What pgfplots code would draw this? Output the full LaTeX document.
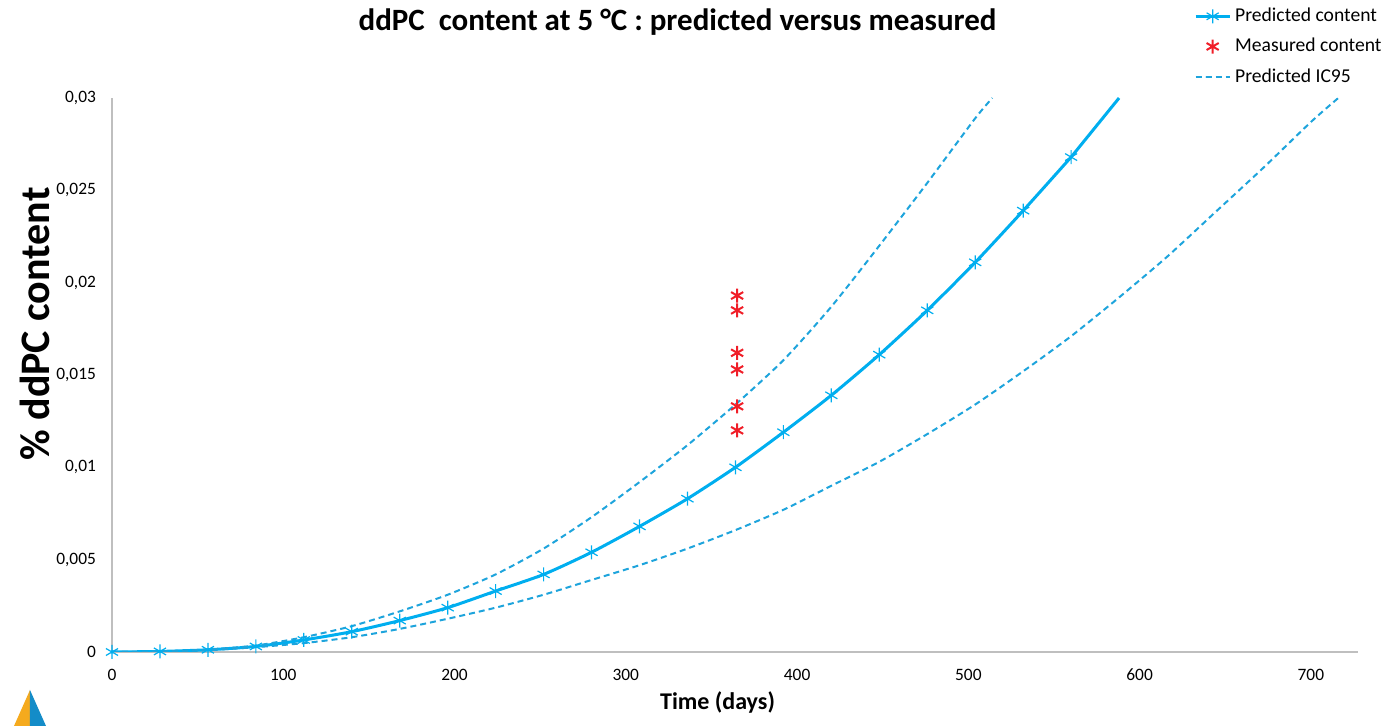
\documentclass[border=0pt]{standalone}
\usepackage{fontspec}
\setmainfont{Carlito}
\usepackage{pgfplots}
\pgfplotsset{compat=1.18}
\definecolor{predblue}{RGB}{0,174,239}
\definecolor{dashblue}{RGB}{30,164,220}
\definecolor{measred}{RGB}{240,30,40}
\definecolor{axgray}{RGB}{191,191,191}
\definecolor{logoorange}{RGB}{245,170,30}
\definecolor{logoblue}{RGB}{20,140,200}
\begin{document}
\begin{tikzpicture}
\useasboundingbox (-56pt,-37pt) rectangle (638pt,326pt);
\begin{axis}[
  at={(0,0)}, anchor=south west,
  scale only axis,
  width=623pt, height=277pt,
  xmin=0, xmax=727.5, ymin=0, ymax=0.03,
  axis x line=bottom, axis y line=left,
  axis line style={axgray, line width=0.8pt, -},
  major tick length=0pt,
  /pgf/number format/assume math mode=true,
  xtick={0,100,200,300,400,500,600,700},
  xticklabels={0,100,200,300,400,500,600,700},
  ytick={0,0.005,0.01,0.015,0.02,0.025,0.03},
  yticklabels={0,{0,005},{0,01},{0,015},{0,02},{0,025},{0,03}},
  xticklabel style={font=\fontsize{8.7}{10}\selectfont, yshift=-5pt},
  yticklabel style={font=\fontsize{8.7}{10}\selectfont, xshift=-4.5pt},
  scaled y ticks=false,
  xlabel={\textbf{Time (days)}},
  xlabel style={font=\fontsize{12}{14}\selectfont, at={(axis description cs:0.486,-0.092)}, anchor=center},
  ylabel={\textbf{\% ddPC content}},
  ylabel style={font=\fontsize{21}{24}\selectfont, at={(axis description cs:-0.062,0.592)}, anchor=center},
  legend style={at={(axis description cs:1.024,1.174)}, anchor=north east, draw=none, fill=none,
    font=\fontsize{9.8}{11}\selectfont, row sep=2.8pt, inner sep=1pt},
  legend cell align=left,
]
\addplot[predblue, line width=1.5pt, smooth, tension=0.4, mark=asterisk, mark size=3.5pt, mark options={line width=0.6pt, solid}] coordinates {
(0,0) (28,0.00003) (56,0.00012) (84,0.0003) (112,0.00065) (140,0.0011) (168,0.0017)
(196,0.0024) (224,0.0033) (252,0.0042) (280,0.0054) (308,0.0068) (336,0.0083)
(364,0.0100) (392,0.0119) (420,0.0139) (448,0.0161) (476,0.0185) (504,0.0211)
(532,0.0239) (560,0.0268)
};
\addlegendentry{Predicted content}
\addplot[only marks, measred, mark=asterisk, mark size=3.5pt, mark options={line width=1pt}] coordinates {
(365,0.0193) (365,0.0185) (365,0.0162) (365,0.0153) (365,0.0133) (365,0.0120)
};
\addlegendentry{Measured content}
\addplot[dashblue, line width=1pt, smooth, tension=0.4, dash pattern=on 3pt off 2pt] coordinates {
(0,0) (28,0.00003) (56,0.00013) (84,0.00035) (112,0.0008) (140,0.0014) (168,0.0022)
(196,0.0031) (224,0.0042) (252,0.0056) (280,0.0073) (308,0.0092) (336,0.0112)
(364,0.0134) (392,0.0158) (420,0.0187) (448,0.0220) (476,0.0254) (504,0.0289)
(514,0.0300)
};
\addlegendentry{Predicted IC95}
\addplot[dashblue, line width=1pt, smooth, tension=0.4, dash pattern=on 3pt off 2pt, forget plot] coordinates {
(0,0) (28,0.00002) (56,0.0001) (84,0.00026) (112,0.00048) (140,0.0008) (168,0.00125)
(196,0.0018) (224,0.0024) (252,0.0031) (280,0.0039) (308,0.0047) (336,0.0056)
(364,0.0066) (392,0.0077) (420,0.0090) (448,0.0103) (476,0.0118) (504,0.0134)
(532,0.0152) (560,0.0171) (588,0.0192) (616,0.0214) (644,0.0238) (672,0.0262)
(700,0.0287) (716,0.0300)
};
\addplot[predblue, line width=1.5pt, forget plot] coordinates {(560,0.0268) (588,0.0300)};
\end{axis}
\node[font=\fontsize{15.5}{18}\selectfont\bfseries, anchor=center] at (282.8pt,315pt)
  {ddPC\ \ content at 5 °C : predicted versus measured};
% logo (decorative)
\fill[logoorange] (-41pt,-19pt) -- (-49pt,-37pt) -- (-41pt,-37pt) -- cycle;
\fill[logoblue] (-41pt,-19pt) -- (-33pt,-37pt) -- (-41pt,-37pt) -- cycle;
\end{tikzpicture}
\end{document}
